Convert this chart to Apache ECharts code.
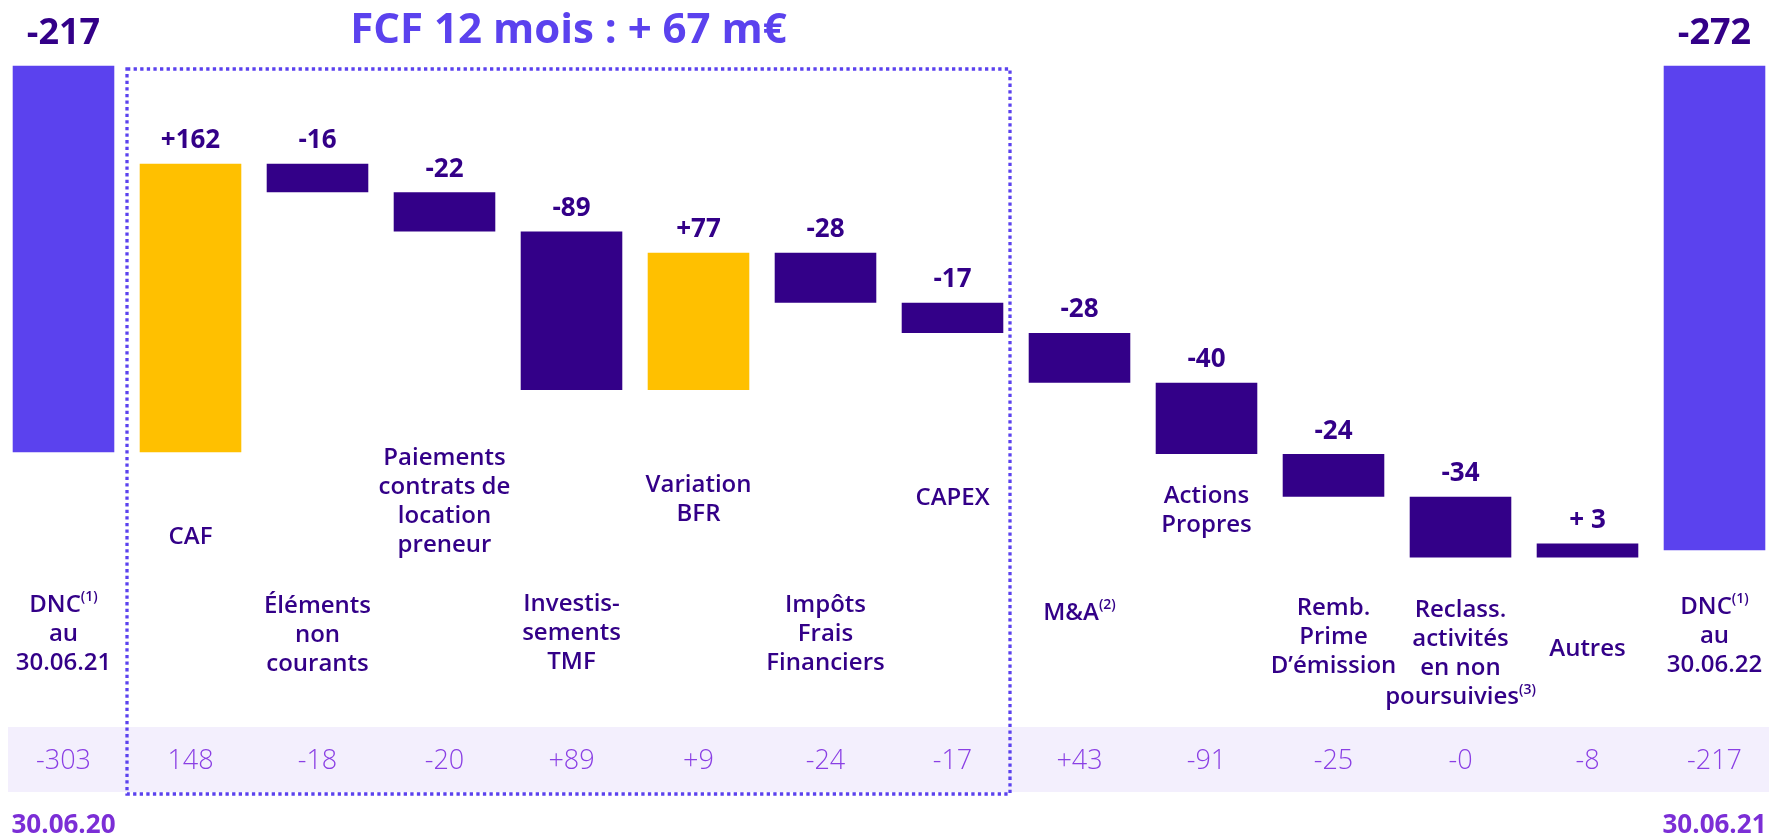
<!DOCTYPE html>
<html>
<head>
<meta charset="utf-8">
<script src="https://cdn.jsdelivr.net/npm/echarts@6/dist/echarts.min.js"></script>
<style>
  html, body { margin: 0; padding: 0; background: #fff; }
  #chart { width: 1778px; height: 838px; }
</style>
</head>
<body>
<div id="chart"></div>
<script>
// values
const startValue = -217;
const endValue = -272;
const totalLabels = ['-217', '-272'];
const steps = [162, -16, -22, -89, 77, -28, -17, -28, -40, -24, -34, 3];
const stepLabels = ['+162', '-16', '-22', '-89', '+77', '-28', '-17', '-28', '-40', '-24', '-34', '+ 3'];
const categories = [
  '{dnc|DNC}{dsup|(1)}\n{dnc|au}\n{dnc|30.06.21}',
  'CAF',
  'Éléments\nnon\ncourants',
  'Paiements\ncontrats de\nlocation\npreneur',
  'Investis-\nsements\nTMF',
  'Variation\nBFR',
  'Impôts\nFrais\nFinanciers',
  'CAPEX',
  'M&A{sup|(2)}',
  'Actions\nPropres',
  'Remb.\nPrime\nD’émission',
  'Reclass.\nactivités\nen non\npoursuivies{sup|(3)}',
  'Autres',
  '{dnc|DNC}{dsup|(1)}\n{dnc|au}\n{dnc|30.06.22}'
];
const lastYear = ['-303', '148', '-18', '-20', '+89', '+9', '-24', '-17', '+43', '-91', '-25', '-0', '-8', '-217'];
const lastYearDates = ['30.06.20', '30.06.21'];
const fcfTitle = 'FCF 12 mois : + 67 m€';
const fcfRange = [1, 7];

// layout (pixels) and styling - kept apart from the data
const FONT = "'Open Sans', sans-serif";
const labelMid = [634, 537, 635, 502, 633, 500, 634, 498, 613, 511, 637, 654, 649, 636];
const goldBars = [1, 5]; // CAF and Variation BFR are drawn in yellow
const DARK = '#330088';
const BLUE = '#5B42EE';
const GOLD = '#FFC000';

// waterfall rows: [index, from, to]
const barData = [[0, 0, startValue]];
let run = startValue;
steps.forEach(function (s, k) {
  barData.push([k + 1, run, run + s]);
  run += s;
});
barData.push([categories.length - 1, 0, endValue]);
const barLabels = [totalLabels[0]].concat(stepLabels, [totalLabels[1]]);

function renderBar(params, api) {
  const i = params.dataIndex;
  const a = api.coord([api.value(0), api.value(1)]);
  const b = api.coord([api.value(0), api.value(2)]);
  const w = api.size([1, 0])[0] * 0.8;
  let top = Math.min(a[1], b[1]);
  const bottom = Math.max(a[1], b[1]);
  if (bottom - top < 14) top = bottom - 14;
  const isTotal = i === 0 || i === barData.length - 1;
  const fill = isTotal ? BLUE : (goldBars.indexOf(i) >= 0 ? GOLD : DARK);
  return {
    type: 'group',
    children: [
      {
        type: 'rect',
        shape: { x: a[0] - w / 2, y: top, width: w, height: bottom - top },
        style: { fill: fill }
      },
      {
        type: 'text',
        style: {
          text: barLabels[i],
          x: a[0],
          y: top - (isTotal ? 14 : 10),
          align: 'center',
          verticalAlign: 'bottom',
          fill: DARK,
          font: 'bold ' + (isTotal ? 36 : 26) + 'px ' + FONT
        }
      }
    ]
  };
}

const richLabel = {
  dnc: { fontFamily: FONT, fontSize: 24, fontWeight: 600, color: BLUE, lineHeight: 29 },
  dsup: { fontFamily: FONT, fontSize: 14, fontWeight: 600, color: BLUE, lineHeight: 29, verticalAlign: 'top' },
  sup: { fontFamily: FONT, fontSize: 14, fontWeight: 600, color: DARK, lineHeight: 29, verticalAlign: 'top' }
};

function renderCategory(params, api) {
  const i = params.dataIndex;
  const p = api.coord([api.value(0), 0]);
  return {
    type: 'text',
    style: {
      text: categories[i],
      x: p[0],
      y: labelMid[i],
      align: 'center',
      verticalAlign: 'middle',
      fill: DARK,
      fontFamily: FONT,
      fontSize: 24,
      fontWeight: 600,
      lineHeight: 29,
      rich: richLabel
    }
  };
}

function renderLastYear(params, api) {
  const i = params.dataIndex;
  const p = api.coord([api.value(0), 0]);
  const children = [{
    type: 'text',
    style: {
      text: lastYear[i], x: p[0], y: 761, align: 'center', verticalAlign: 'middle',
      fill: '#8A3FE4', font: '300 27px ' + FONT
    }
  }];
  if (i === 0 || i === lastYear.length - 1) {
    children.push({
      type: 'text',
      style: {
        text: lastYearDates[i === 0 ? 0 : 1], x: p[0], y: 826, align: 'center', verticalAlign: 'middle',
        fill: '#7B2ED6', font: 'bold 26px ' + FONT
      }
    });
  }
  return { type: 'group', children: children };
}

function renderBox(params, api) {
  const band = api.size([1, 0])[0];
  const x0 = api.coord([api.value(0), 0])[0] - band / 2;
  const x1 = api.coord([api.value(1), 0])[0] + band / 2 - 6;
  return {
    type: 'group',
    children: [
      {
        type: 'rect',
        shape: { x: x0, y: 69, width: x1 - x0, height: 725 },
        style: { fill: 'none', stroke: BLUE, lineWidth: 3.3, lineDash: [3.3, 3.3] }
      },
      {
        type: 'text',
        style: {
          text: fcfTitle, x: (x0 + x1) / 2, y: 31, align: 'center', verticalAlign: 'middle',
          fill: BLUE, font: 'bold 42px ' + FONT
        }
      }
    ]
  };
}

const chart = echarts.init(document.getElementById('chart'));
chart.setOption({
  animation: false,
  grid: { left: -2.7, right: -7.7, top: 65.7, bottom: 237.8 },
  xAxis: {
    type: 'category',
    data: categories.map(function (c, i) { return i; }),
    show: false
  },
  yAxis: { type: 'value', min: -300, max: 0, show: false },
  graphic: [{
    type: 'rect',
    z: -10,
    shape: { x: 8, y: 727, width: 1761, height: 65 },
    style: { fill: '#F3EFFD' }
  }],
  series: [
    {
      type: 'custom',
      name: 'bars',
      renderItem: renderBar,
      encode: { x: 0, y: [1, 2] },
      data: barData,
      z: 3
    },
    {
      type: 'custom',
      name: 'categories',
      renderItem: renderCategory,
      encode: { x: 0, y: 1 },
      data: categories.map(function (c, i) { return [i, 0]; })
    },
    {
      type: 'custom',
      name: 'lastYear',
      renderItem: renderLastYear,
      encode: { x: 0, y: 1 },
      data: lastYear.map(function (v, i) { return [i, 0]; })
    },
    {
      type: 'custom',
      name: 'fcf',
      renderItem: renderBox,
      encode: { x: [0, 1] },
      data: [fcfRange],
      z: 4
    }
  ]
});
</script>
</body>
</html>
